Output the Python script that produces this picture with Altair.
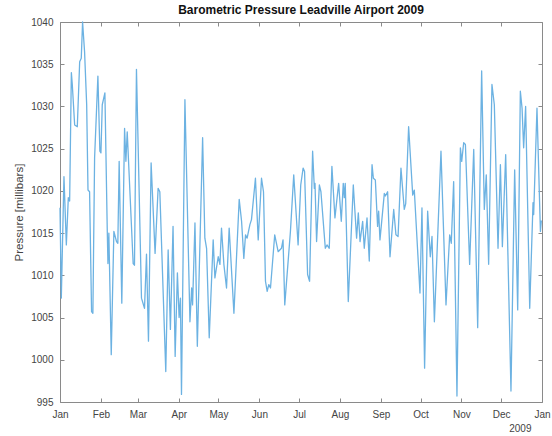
import altair as alt
import pandas as pd

# Day of year (0 = 1 Jan 2009) and barometric pressure in millibars
days = [
    0, 1, 3, 4.8, 6.3, 7.3, 8.6, 9.3, 11.1, 13.1, 14.9, 16.1, 17.1, 18.6, 20.2, 21.2, 22.4,
    23.9, 24.9, 26.2, 28.7, 30.2, 31.0, 32.0, 34.0, 35.8, 36.3, 37.0, 38.8, 40.8, 42.8, 43.8,
    44.8, 46.8, 48.9, 49.9, 50.9, 55.4, 56.4, 57.9, 61.7, 64.0, 65.5, 67.0, 69.0, 72.0, 74.3,
    75.6, 80.1, 81.9, 83.6, 85.6, 87.2, 88.9, 90.2, 91.2, 92.0,
    94.6, 98.4, 99.7, 100.4, 102.2, 104.0, 108.0, 109.7, 111.0, 113.0, 116.0, 117.3, 119.8,
    121.1, 122.3, 124.1, 126.1, 128.1, 131.7, 135.7, 137.5, 139.2, 140.5, 141.7, 143.8, 145.0,
    148.0, 150.1, 152.6, 154.1, 155.6, 156.9, 158.1, 159.4, 162.6, 165.2, 167.7, 168.9, 170.2,
    174.5, 177.0, 180.3, 182.3, 184.1,
    185.2, 187.5, 189.0, 191.3, 192.6, 193.1, 194.3, 196.4, 197.6, 200.9, 202.2, 203.9, 205.9,
    208.2, 211.0, 213.0, 214.5, 215.3, 216.0, 218.3, 222.1, 224.6, 225.9, 227.2, 229.2, 230.4,
    232.5, 234.2, 236.3, 237.3, 238.8, 240.5, 241.3, 242.3, 245.6, 246.4, 248.1, 249.9, 252.7,
    254.4, 256.0, 258.2, 260.7, 261.8, 264.0, 267.1, 268.3, 272.6, 274.1,
    276.1, 278.4, 280.4, 281.7, 283.5, 288.5, 292.3, 295.1, 296.3, 298.1, 300.6, 303.2, 304.2,
    305.7, 307.0, 310.2, 313.3, 316.3, 319.3, 321.3, 322.8, 324.6, 327.1, 328.9, 331.7, 333.5,
    335.0, 337.5, 341.5, 344.3, 346.6, 348.6, 349.9, 351.1, 352.6, 355.7, 358.2, 358.7, 361.2,
    363.8, 364.5,
]
pressure = [
    1018.0, 1007.3, 1021.7, 1013.6, 1019.2, 1018.8, 1034.0, 1032.6, 1027.8, 1027.6, 1035.3,
    1035.7, 1040.0, 1036.5, 1030.2, 1020.1, 1019.9, 1005.7, 1005.5, 1023.9, 1033.6, 1024.7,
    1024.5, 1030.2, 1031.6, 1015.2, 1011.4, 1015.0, 1000.6, 1015.2, 1014.0, 1013.8, 1023.5,
    1006.7, 1027.4, 1023.5, 1027.0, 1011.4, 1011.2, 1034.4, 1007.3, 1006.1, 1012.5, 1002.2,
    1023.3, 1012.6, 1020.3, 1019.9, 998.6, 1013.0, 1003.6, 1015.8, 1000.4, 1010.3, 1005.0,
    1007.3, 995.9,
    1030.8, 1004.5, 1008.5, 1006.5, 1016.2, 1001.6, 1026.3, 1014.4, 1013.2, 1002.6, 1014.2,
    1009.7, 1012.2, 1011.3, 1015.6, 1011.3, 1008.5, 1015.6, 1005.5, 1019.0, 1016.4, 1012.0,
    1014.8, 1014.4, 1016.0, 1016.6, 1021.5, 1014.2, 1021.5, 1019.9, 1009.3, 1008.1, 1008.9,
    1008.5, 1014.8, 1012.8, 1013.2, 1014.2, 1006.5, 1015.2, 1021.9, 1013.6, 1020.7, 1022.7,
    1022.3, 1010.1, 1009.3, 1024.7, 1020.3, 1020.9, 1014.0, 1020.7, 1019.9, 1013.2, 1013.6,
    1013.2, 1022.9, 1016.8, 1020.9, 1016.4, 1020.9, 1019.2, 1020.9, 1006.9, 1020.7, 1014.4,
    1017.4, 1014.0, 1016.4, 1013.2, 1016.8, 1011.7, 1023.1, 1021.5, 1021.3, 1015.8, 1017.6,
    1014.2, 1019.7, 1019.4, 1019.9, 1012.2, 1017.8, 1014.8, 1014.6, 1022.7, 1017.8, 1018.5,
    1027.6, 1019.5, 1020.1, 1007.9, 1018.0,
    999.0, 1017.6, 1012.2, 1014.6, 1004.5, 1024.7, 1006.5, 1014.8, 1013.8, 1021.1, 995.7,
    1025.1, 1023.5, 1025.7, 1025.5, 1011.3, 1024.9, 1003.8, 1034.2, 1017.8, 1021.9, 1011.3,
    1032.6, 1030.2, 1013.2, 1023.1, 1013.4, 1024.3, 996.3, 1022.5, 1005.9, 1031.8, 1029.8,
    1025.1, 1030.0, 1006.1, 1018.6, 1017.2, 1029.8, 1015.2, 1016.5,
]
y_ticks = [995, 1000, 1005, 1010, 1015, 1020, 1025, 1030, 1035, 1040]
month_starts = [(2009, m) for m in range(1, 13)] + [(2010, 1)]

title_text = "Barometric Pressure Leadville Airport 2009"
y_title = "Pressure [millibars]"
year_label = "2009"

df = pd.DataFrame({
    "date": pd.Timestamp("2009-01-01") + pd.to_timedelta(days, unit="D"),
    "p": pressure,
})

W, H = 482, 380
FONT = "Liberation Sans"
AXC = "#8a8a8a"
TXT = "#444444"
LINE = "#6cb2e2"

tick_dates = [alt.DateTime(year=y, month=m, date=1) for y, m in month_starts]
xscale = alt.Scale(domain=[alt.DateTime(year=2009, month=1, date=1),
                           alt.DateTime(year=2010, month=1, date=1)])
yscale = alt.Scale(domain=[995, 1040], nice=False, zero=False)

# main layer: the line, tick labels and titles
main = alt.Chart(df).mark_line(color=LINE, strokeWidth=1.3, strokeJoin="round").encode(
    x=alt.X("date:T", scale=xscale,
            axis=alt.Axis(values=tick_dates, format="%b", ticks=False, domain=False,
                          grid=False, labelPadding=7, labelFontSize=10, labelFont=FONT,
                          labelColor=TXT, labelOverlap=False, labelFlush=False,
                          title=year_label, titleFont=FONT, titleFontSize=10,
                          titleFontWeight="normal", titleColor=TXT, titleAlign="right",
                          titleAnchor="end", titleX=W - 11, titleY=26,
                          titleBaseline="middle")),
    y=alt.Y("p:Q", scale=yscale,
            axis=alt.Axis(values=y_ticks, format="d", ticks=False, domain=False, grid=False,
                          labelPadding=7, labelFontSize=10, labelFont=FONT, labelColor=TXT,
                          labelOverlap=False, labelFlush=False,
                          title=y_title, titleFont=FONT, titleFontSize=11.5,
                          titleFontWeight="normal", titleColor=TXT, titleAngle=270,
                          titleAlign="center", titleBaseline="bottom",
                          titleX=-36, titleY=H / 2)),
)

# inward ticks on bottom and left edges
ticks_a = alt.Chart(df).mark_line(opacity=0).encode(
    x=alt.X("date:T", scale=xscale,
            axis=alt.Axis(orient="top", offset=-H, values=tick_dates, labels=False,
                          domain=False, grid=False, ticks=True, tickSize=4, tickColor=AXC,
                          title=None)),
    y=alt.Y("p:Q", scale=yscale,
            axis=alt.Axis(orient="right", offset=-W, values=y_ticks, labels=False,
                          domain=False, grid=False, ticks=True, tickSize=4, tickColor=AXC,
                          title=None)),
)

# inward ticks on top and right edges
ticks_b = alt.Chart(df).mark_line(opacity=0).encode(
    x=alt.X("date:T", scale=xscale,
            axis=alt.Axis(orient="bottom", offset=-H, values=tick_dates, labels=False,
                          domain=False, grid=False, ticks=True, tickSize=4, tickColor=AXC,
                          title=None)),
    y=alt.Y("p:Q", scale=yscale,
            axis=alt.Axis(orient="left", offset=-W, values=y_ticks, labels=False,
                          domain=False, grid=False, ticks=True, tickSize=4, tickColor=AXC,
                          title=None)),
)

chart = alt.layer(main, ticks_a, ticks_b).resolve_axis(
    x="independent", y="independent"
).properties(
    width=W,
    height=H,
    title=alt.TitleParams(title_text, font=FONT, fontSize=12, fontWeight="bold",
                          color="#111111", anchor="middle", offset=0),
    autosize=alt.AutoSizeParams(type="none"),
    padding={"left": 60, "top": 22, "right": 10, "bottom": 34},
    background="white",
).configure_view(stroke=AXC, strokeWidth=1)

chart.save("out.html", embed_options={"renderer": "svg", "actions": False})
